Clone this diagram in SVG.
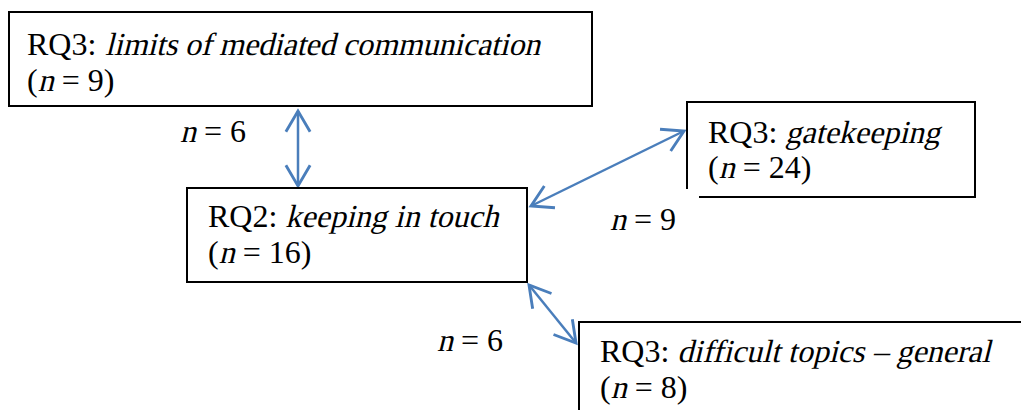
<svg xmlns="http://www.w3.org/2000/svg" width="1021" height="410" viewBox="0 0 1021 410">
<style>
  .box { fill: #ffffff; stroke: #000000; stroke-width: 2; }
  .t { font-family: "Liberation Serif", "Times New Roman", serif; font-size: 32px; fill: #000000; }
  .conn { stroke: #4a7ebb; stroke-width: 2.5; fill: none; }
</style>
<defs>
  <marker id="ah" markerUnits="userSpaceOnUse" markerWidth="30" markerHeight="30" viewBox="-22 -13 26 26" refX="0" refY="0" orient="auto-start-reverse">
    <path d="M-18,-10.5 L0,0 L-18,10.5" fill="none" stroke="#4a7ebb" stroke-width="2.5"/>
  </marker>
</defs>
<rect width="1021" height="410" fill="#ffffff"/>
<g id="connectors">
  <line class="conn" x1="298" y1="111" x2="298" y2="186" marker-start="url(#ah)" marker-end="url(#ah)"/>
  <line class="conn" x1="531" y1="206" x2="684" y2="131" marker-start="url(#ah)" marker-end="url(#ah)"/>
  <line class="conn" x1="529" y1="285" x2="576" y2="343" marker-start="url(#ah)" marker-end="url(#ah)"/>
</g>
<g id="node-limits">
  <rect class="box" x="9" y="12" width="583" height="94"/>
  <text class="t" x="27" y="55">RQ3:</text>
  <text class="t" transform="translate(105,55) skewX(-14)" x="0" y="0" textLength="435" lengthAdjust="spacing">limits of mediated communication</text>
  <text class="t" x="27" y="91">(</text>
  <text class="t" transform="translate(37.7,91) skewX(-14)" x="0" y="0">n</text>
  <text class="t" x="53.7" y="91" xml:space="preserve"> = 9)</text>
</g>
<g id="node-keeping">
  <rect class="box" x="187" y="188" width="340" height="94"/>
  <text class="t" x="208" y="227">RQ2:</text>
  <text class="t" transform="translate(285.3,227) skewX(-14)" x="0" y="0">keeping in touch</text>
  <text class="t" x="208" y="263">(</text>
  <text class="t" transform="translate(218.7,263) skewX(-14)" x="0" y="0">n</text>
  <text class="t" x="234.7" y="263" xml:space="preserve"> = 16)</text>
</g>
<g id="node-gatekeeping">
  <path class="box" d="M687,189 L687,102 L975,102 L975,197 L699,197"/>
  <text class="t" x="708" y="143">RQ3:</text>
  <text class="t" transform="translate(785.3,143) skewX(-14)" x="0" y="0">gatekeeping</text>
  <text class="t" x="708" y="178">(</text>
  <text class="t" transform="translate(718.7,178) skewX(-14)" x="0" y="0">n</text>
  <text class="t" x="734.7" y="178" xml:space="preserve"> = 24)</text>
</g>
<g id="node-difficult">
  <rect class="box" x="579" y="322" width="460" height="110"/>
  <text class="t" x="600" y="362">RQ3:</text>
  <text class="t" transform="translate(677.3,362) skewX(-14)" x="0" y="0">difficult topics – general</text>
  <text class="t" x="600" y="398">(</text>
  <text class="t" transform="translate(610.7,398) skewX(-14)" x="0" y="0">n</text>
  <text class="t" x="626.7" y="398" xml:space="preserve"> = 8)</text>
</g>
<g id="labels">
  <text class="t" transform="translate(180,142) skewX(-14)" x="0" y="0">n</text>
  <text class="t" x="196" y="142" xml:space="preserve"> = 6</text>
  <text class="t" transform="translate(610,230) skewX(-14)" x="0" y="0">n</text>
  <text class="t" x="626" y="230" xml:space="preserve"> = 9</text>
  <text class="t" transform="translate(437,351) skewX(-14)" x="0" y="0">n</text>
  <text class="t" x="453" y="351" xml:space="preserve"> = 6</text>
</g>
</svg>
